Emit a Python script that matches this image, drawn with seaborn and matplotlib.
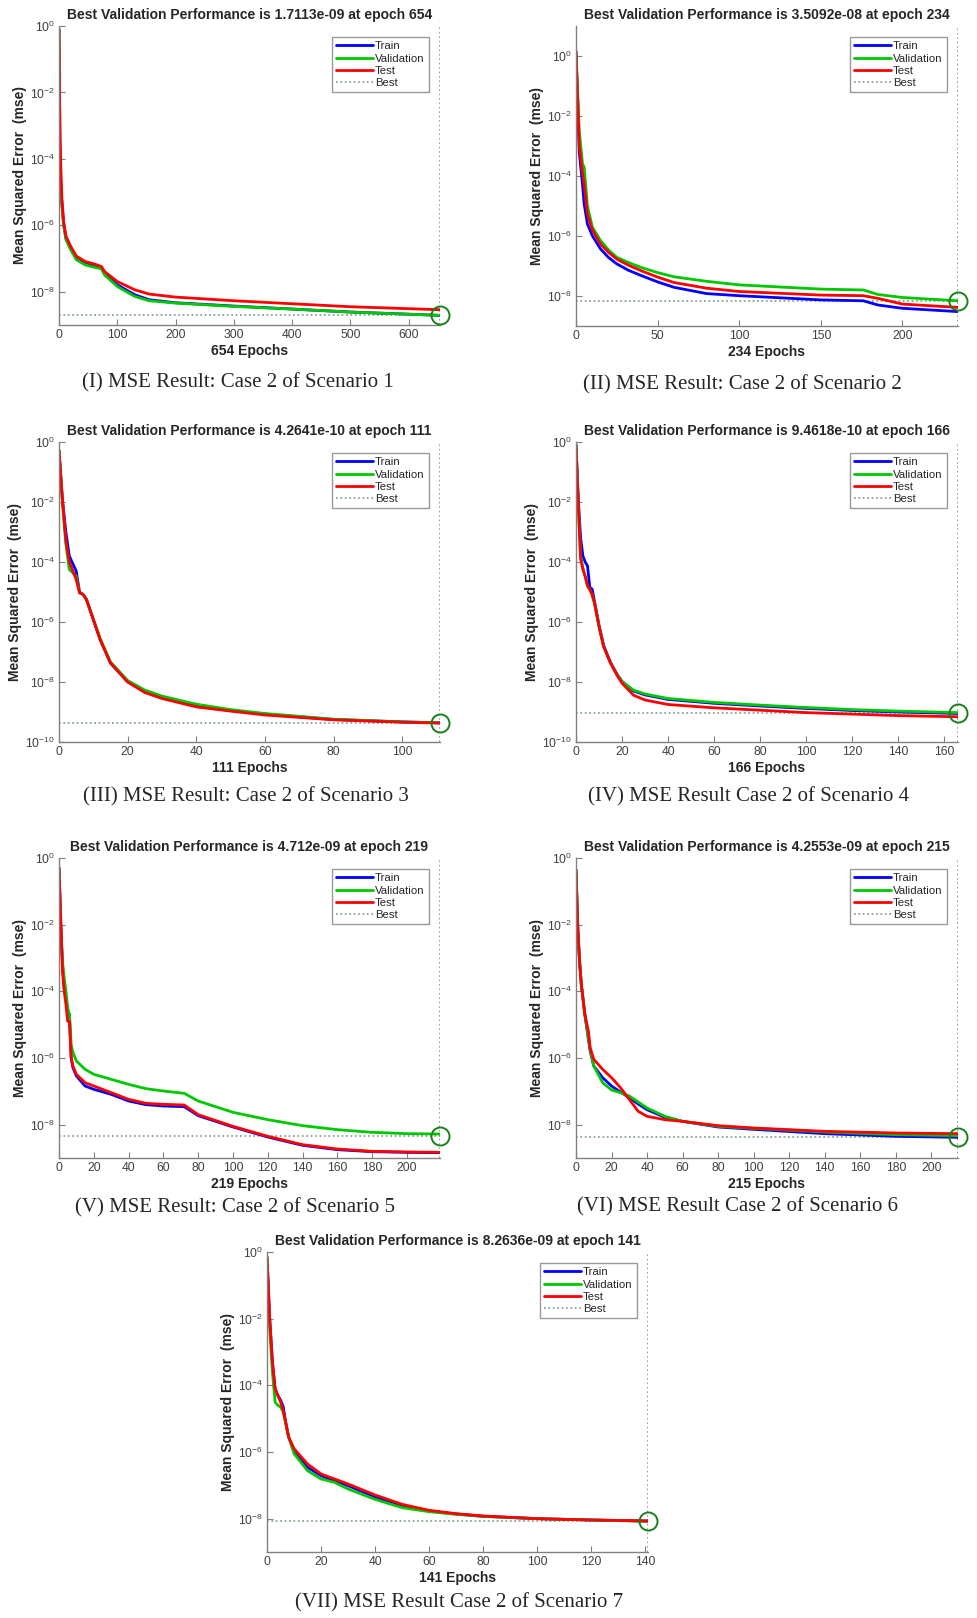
import numpy as np
import pandas as pd
import seaborn as sns
import matplotlib.pyplot as plt
from matplotlib.lines import Line2D

# values, stored as log10(mse)
p1_epochs = [0, 1, 3, 5, 8, 12, 20, 30, 45, 60, 73, 78, 100, 130, 155, 200, 300, 400, 500, 654]
p1_train = [-0.1, -3.6, -4.75, -5.35, -5.97, -6.4, -6.7, -7.0, -7.16, -7.23, -7.29, -7.45, -7.79, -8.09, -8.24, -8.33, -8.43, -8.52, -8.61, -8.71]
p1_val = [-0.1, -3.7, -4.8, -5.4, -6.0, -6.43, -6.73, -7.04, -7.19, -7.26, -7.31, -7.49, -7.84, -8.14, -8.27, -8.34, -8.44, -8.52, -8.61, -8.71]
p1_test = [-0.1, -2.2, -4.2, -5.2, -5.9, -6.33, -6.63, -6.93, -7.09, -7.16, -7.24, -7.39, -7.69, -7.94, -8.07, -8.16, -8.27, -8.36, -8.45, -8.54]

p2_epochs = [0, 2, 4, 5, 7, 10, 15, 20, 25, 32, 40, 50, 60, 80, 100, 150, 176, 185, 200, 234]
p2_train = [0.14, -3.2, -4.3, -4.93, -5.6, -5.99, -6.43, -6.72, -6.93, -7.14, -7.32, -7.53, -7.71, -7.92, -7.99, -8.13, -8.16, -8.3, -8.41, -8.52]
p2_val = [0.14, -2.5, -3.6, -3.7, -5.0, -5.7, -6.15, -6.47, -6.71, -6.88, -7.05, -7.22, -7.36, -7.51, -7.63, -7.77, -7.8, -7.95, -8.05, -8.16]
p2_test = [0.14, -3.0, -3.9, -4.26, -5.26, -5.8, -6.27, -6.55, -6.77, -6.97, -7.16, -7.37, -7.55, -7.74, -7.85, -7.97, -7.99, -8.08, -8.27, -8.38]

p3_epochs = [0, 1, 2, 3, 5, 6, 7, 8, 10, 12, 15, 20, 25, 30, 40, 50, 60, 80, 100, 111]
p3_train = [-0.28, -1.9, -3.0, -3.8, -4.3, -5.0, -5.08, -5.25, -5.92, -6.59, -7.37, -7.99, -8.33, -8.52, -8.79, -8.95, -9.07, -9.25, -9.33, -9.36]
p3_val = [-0.28, -2.0, -3.4, -4.25, -4.47, -5.03, -5.08, -5.25, -5.9, -6.55, -7.33, -7.95, -8.27, -8.47, -8.74, -8.92, -9.05, -9.24, -9.33, -9.36]
p3_test = [-0.28, -1.95, -3.3, -4.0, -4.58, -5.03, -5.08, -5.25, -5.92, -6.59, -7.37, -8.0, -8.35, -8.55, -8.83, -8.97, -9.1, -9.26, -9.34, -9.37]

p4_epochs = [0, 1, 2, 3, 4, 5, 6, 7, 8, 10, 12, 15, 18, 20, 25, 30, 40, 60, 80, 100, 120, 140, 166]
p4_train = [-0.1, -1.9, -3.2, -3.8, -4.0, -4.13, -4.85, -4.9, -5.3, -6.1, -6.78, -7.35, -7.76, -7.98, -8.3, -8.43, -8.58, -8.71, -8.8, -8.88, -8.95, -9.0, -9.05]
p4_val = [-0.1, -2.1, -3.8, -4.2, -4.5, -4.8, -4.92, -5.1, -5.36, -6.15, -6.82, -7.37, -7.77, -7.99, -8.27, -8.4, -8.55, -8.68, -8.77, -8.85, -8.92, -8.97, -9.02]
p4_test = [-0.1, -2.1, -3.9, -4.25, -4.47, -4.8, -4.92, -5.08, -5.36, -6.15, -6.82, -7.37, -7.8, -8.04, -8.44, -8.6, -8.75, -8.86, -8.94, -9.02, -9.07, -9.12, -9.16]

p5_epochs = [0, 1, 2, 3, 4, 5, 6, 7, 8, 10, 15, 20, 30, 40, 50, 60, 72, 80, 100, 120, 140, 160, 180, 200, 219]
p5_train = [-0.3, -2.0, -3.2, -3.9, -4.2, -4.6, -4.7, -6.0, -6.29, -6.54, -6.84, -6.94, -7.09, -7.29, -7.4, -7.44, -7.46, -7.73, -8.07, -8.37, -8.62, -8.75, -8.81, -8.83, -8.84]
p5_val = [-0.3, -2.1, -3.1, -3.6, -4.0, -4.5, -4.7, -5.6, -5.83, -6.09, -6.34, -6.49, -6.64, -6.79, -6.92, -6.99, -7.06, -7.29, -7.63, -7.85, -8.03, -8.15, -8.23, -8.27, -8.28]
p5_test = [-0.3, -1.8, -3.4, -4.0, -4.4, -4.9, -4.9, -6.0, -6.24, -6.49, -6.74, -6.84, -7.04, -7.24, -7.36, -7.39, -7.41, -7.7, -8.05, -8.35, -8.6, -8.73, -8.8, -8.82, -8.83]

p6_epochs = [0, 1, 2, 3, 5, 7, 8, 10, 15, 20, 25, 30, 35, 40, 50, 60, 80, 100, 140, 180, 215]
p6_train = [-0.35, -2.1, -3.1, -3.8, -4.7, -5.45, -5.8, -6.24, -6.59, -6.84, -7.02, -7.19, -7.38, -7.55, -7.78, -7.9, -8.07, -8.14, -8.27, -8.35, -8.38]
p6_val = [-0.35, -2.1, -3.1, -3.8, -4.7, -5.4, -5.75, -6.24, -6.74, -6.96, -7.04, -7.14, -7.32, -7.5, -7.75, -7.9, -8.05, -8.11, -8.22, -8.3, -8.33]
p6_test = [-0.35, -2.1, -3.1, -3.8, -4.7, -5.2, -5.7, -6.04, -6.34, -6.59, -6.89, -7.24, -7.6, -7.75, -7.85, -7.9, -8.03, -8.1, -8.2, -8.25, -8.27]

p7_epochs = [0, 1, 2, 3, 4, 5, 6, 7, 8, 10, 15, 20, 25, 30, 40, 50, 60, 70, 80, 100, 120, 141]
p7_train = [-0.15, -2.0, -3.3, -4.1, -4.3, -4.44, -4.64, -5.15, -5.55, -5.95, -6.46, -6.71, -6.86, -7.01, -7.35, -7.6, -7.77, -7.86, -7.93, -8.0, -8.04, -8.07]
p7_val = [-0.15, -2.3, -3.6, -4.5, -4.6, -4.65, -4.8, -5.15, -5.55, -6.05, -6.56, -6.81, -6.91, -7.11, -7.42, -7.67, -7.79, -7.87, -7.93, -8.0, -8.04, -8.08]
p7_test = [-0.15, -2.0, -3.3, -4.1, -4.3, -4.5, -4.76, -5.15, -5.55, -5.9, -6.36, -6.66, -6.81, -6.96, -7.29, -7.57, -7.75, -7.85, -7.92, -8.0, -8.04, -8.07]

titles = [
    "Best Validation Performance is 1.7113e-09 at epoch 654",
    "Best Validation Performance is 3.5092e-08 at epoch 234",
    "Best Validation Performance is 4.2641e-10 at epoch 111",
    "Best Validation Performance is 9.4618e-10 at epoch 166",
    "Best Validation Performance is 4.712e-09 at epoch 219",
    "Best Validation Performance is 4.2553e-09 at epoch 215",
    "Best Validation Performance is 8.2636e-09 at epoch 141",
]
captions = [
    "(I) MSE Result: Case 2 of Scenario 1",
    "(II) MSE Result: Case 2 of Scenario 2",
    "(III) MSE Result: Case 2 of Scenario 3",
    "(IV) MSE Result Case 2 of Scenario 4",
    "(V) MSE Result: Case 2 of Scenario 5",
    "(VI) MSE Result Case 2 of Scenario 6",
    "(VII) MSE Result Case 2 of Scenario 7",
]
best_epochs = [654, 234, 111, 166, 219, 215, 141]
best_logs = [-8.71, -8.16, -9.37, -9.024, -8.327, -8.371, -8.083]
y_low = [-9, -9, -10, -10, -9, -9, -9]
y_high = [0, 1, 0, 0, 0, 0, 0]
x_step = [100, 50, 20, 20, 20, 20, 20]

series = [
    (p1_epochs, p1_train, p1_val, p1_test),
    (p2_epochs, p2_train, p2_val, p2_test),
    (p3_epochs, p3_train, p3_val, p3_test),
    (p4_epochs, p4_train, p4_val, p4_test),
    (p5_epochs, p5_train, p5_val, p5_test),
    (p6_epochs, p6_train, p6_val, p6_test),
    (p7_epochs, p7_train, p7_val, p7_test),
]

# axes boxes in pixels (left, top, right, bottom) of a 978x1618 figure
boxes = [
    (59, 26, 440, 325), (576, 26, 958, 326),
    (59, 442, 440, 742), (576, 442, 958, 742),
    (59, 858, 440, 1158), (576, 858, 958, 1158),
    (267, 1252, 648, 1552),
]
caption_xy = [(238, 383), (742, 385), (246, 797), (749, 797), (235, 1208), (738, 1207), (459, 1603)]

W, H = 978, 1618
colors = {"Train": "#0000ff", "Validation": "#00c800", "Test": "#ff0000"}
best_color = "#7d9a7d"

sns.set_theme(style="ticks")
plt.rcParams["font.family"] = ["Liberation Sans", "DejaVu Sans"]
plt.rcParams["axes.edgecolor"] = "#808080"
plt.rcParams["xtick.color"] = "#808080"
plt.rcParams["ytick.color"] = "#808080"
plt.rcParams["xtick.labelcolor"] = "#404040"
plt.rcParams["ytick.labelcolor"] = "#404040"
plt.rcParams["xtick.direction"] = "in"
plt.rcParams["ytick.direction"] = "in"

fig = plt.figure(figsize=(W / 100, H / 100), dpi=100)

for i in range(7):
    l, t, r, b = boxes[i]
    ax = fig.add_axes([l / W, 1 - b / H, (r - l) / W, (b - t) / H])
    ep, tr, va, te = series[i]
    df = pd.DataFrame({"epoch": ep, "Train": tr, "Validation": va, "Test": te})
    for name in ["Train", "Validation", "Test"]:
        sns.lineplot(x=df["epoch"], y=np.power(10.0, df[name]), color=colors[name],
                     linewidth=2.0, estimator=None, sort=False, ax=ax, legend=False)
    be = best_epochs[i]
    bv = 10.0 ** best_logs[i]
    ylo, yhi = 10.0 ** y_low[i], 10.0 ** y_high[i]
    ax.plot([be, be], [ylo, yhi], ls=":", color=best_color, lw=1.2, zorder=1)
    ax.plot([0, be], [bv, bv], ls=":", color=best_color, lw=1.2, zorder=1)
    ax.plot([be], [bv], "o", mfc="none", mec="#1a801a", ms=13, mew=1.4, clip_on=False, zorder=5)

    ax.set_yscale("log")
    ax.set_ylim(ylo, yhi)
    ax.set_xlim(0, be)
    ax.set_yticks([10.0 ** k for k in range(y_low[i] if y_low[i] % 2 == 0 else y_low[i] + 1, 1, 2)])
    ax.minorticks_off()
    ax.set_xticks(np.arange(0, be + 1, x_step[i]))
    ax.tick_params(labelsize=8.7, length=4, width=0.8, pad=3)
    for side in ["top", "right"]:
        ax.spines[side].set_visible(False)
    ax.spines["left"].set_linewidth(1.0)
    ax.spines["bottom"].set_linewidth(1.0)

    ax.set_title(titles[i], fontsize=10, fontweight="bold", pad=5)
    ax.set_xlabel(f"{be} Epochs", fontsize=10, fontweight="bold", labelpad=2)
    ax.set_ylabel("Mean Squared Error  (mse)", fontsize=10, fontweight="bold", labelpad=2)

    handles = [Line2D([], [], color=colors[n], lw=2.0) for n in ["Train", "Validation", "Test"]]
    handles.append(Line2D([], [], color=best_color, lw=1.2, ls=":"))
    leg = ax.legend(handles, ["Train", "Validation", "Test", "Best"], loc="upper right",
                    fontsize=8.2, frameon=True, fancybox=False, edgecolor="#808080",
                    handlelength=3.3, handletextpad=0.15, labelspacing=0.2,
                    borderpad=0.35, borderaxespad=1.0)
    leg.get_frame().set_linewidth(1.0)

    cx, cy = caption_xy[i]
    fig.text(cx / W, 1 - cy / H, captions[i], ha="center", va="center",
             fontsize=15, family=["Liberation Serif", "DejaVu Serif"])

fig.savefig("out.png", dpi=100, facecolor="white")
